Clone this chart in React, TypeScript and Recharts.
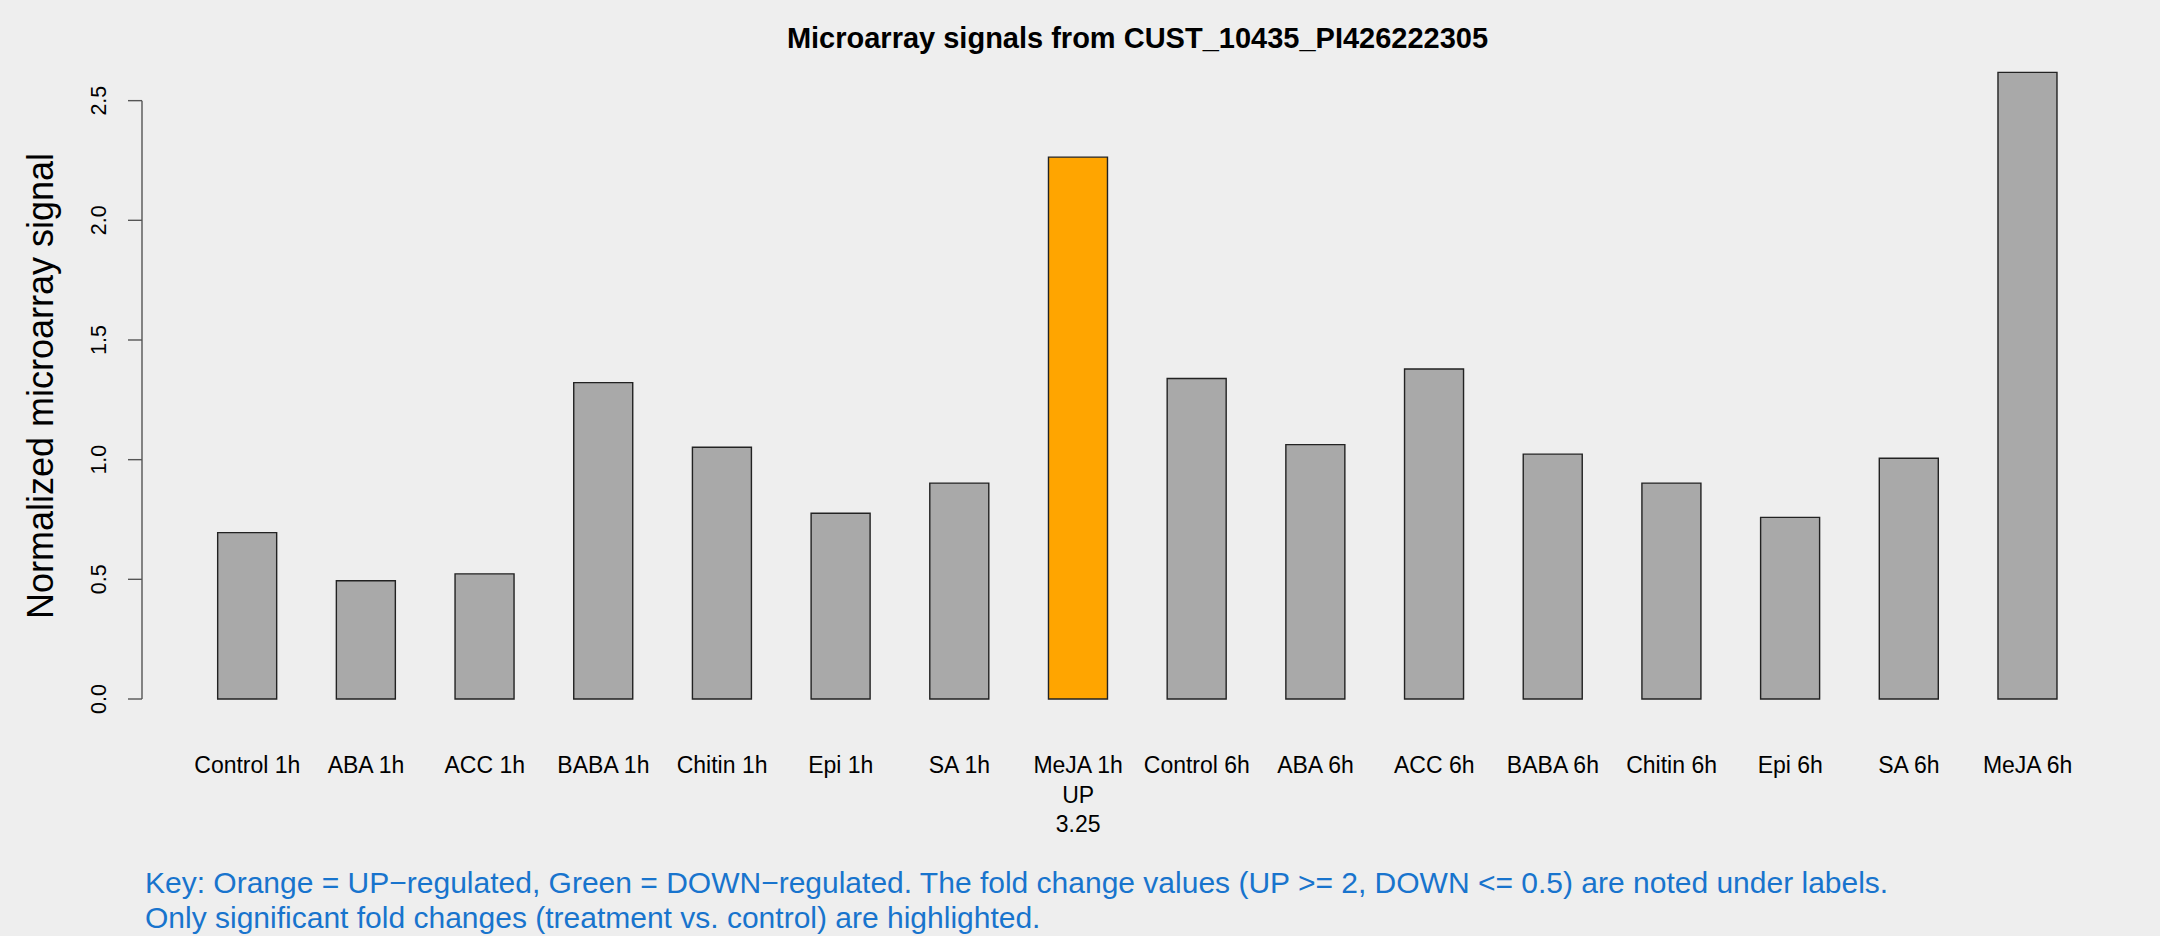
import React from 'react';
import { BarChart, Bar, XAxis, YAxis, Cell } from 'recharts';
import * as R from 'recharts';

const categories = [
  'Control 1h', 'ABA 1h', 'ACC 1h', 'BABA 1h', 'Chitin 1h', 'Epi 1h', 'SA 1h', 'MeJA 1h',
  'Control 6h', 'ABA 6h', 'ACC 6h', 'BABA 6h', 'Chitin 6h', 'Epi 6h', 'SA 6h', 'MeJA 6h'
];
const signals = [
  0.695, 0.494, 0.523, 1.322, 1.052, 0.776, 0.902, 2.264,
  1.339, 1.063, 1.379, 1.023, 0.902, 0.759, 1.006, 2.618
];
const regulation = ['', '', '', '', '', '', '', 'UP', '', '', '', '', '', '', '', ''];
const foldChanges = ['', '', '', '', '', '', '', '3.25', '', '', '', '', '', '', '', ''];
const yTicks = [0, 0.5, 1, 1.5, 2, 2.5];
const yMax = 2.72;

const title = 'Microarray signals from CUST_10435_PI426222305';
const yLabel = 'Normalized microarray signal';
const keyLines = [
  'Key: Orange = UP\u2212regulated, Green = DOWN\u2212regulated. The fold change values (UP >= 2, DOWN <= 0.5) are noted under labels.',
  'Only significant fold changes (treatment vs. control) are highlighted.'
];

const data = categories.map((name, i) => ({
  name,
  signal: signals[i],
  reg: regulation[i],
  fold: foldChanges[i]
}));

const FONT = '"Liberation Sans", Arial, Helvetica, sans-serif';
const AXIS_OFFSET = 46;

const colorFor = (reg: string) => (reg === 'UP' ? '#FFA500' : reg === 'DOWN' ? '#00A000' : '#A9A9A9');

const XTick = (props: any) => {
  const { x, y, index } = props;
  const d = data[index];
  const lines = [d.name, d.reg, d.fold].filter((s) => s);
  return (
    <text x={x} y={y + 74} textAnchor="middle" fontSize={23} fontFamily={FONT} fill="#000">
      {lines.map((l, i) => (
        <tspan key={i} x={x} dy={i === 0 ? 0 : 29.5}>
          {l}
        </tspan>
      ))}
    </text>
  );
};

const YTick = (props: any) => {
  const { x, y, payload } = props;
  const ax = x - AXIS_OFFSET;
  const lx = ax - 43;
  return (
    <g>
      <line x1={ax - 14} x2={ax} y1={y} y2={y} stroke="#555" strokeWidth={1.4} />
      <text
        x={lx}
        y={y}
        transform={`rotate(-90 ${lx} ${y})`}
        textAnchor="middle"
        dominantBaseline="central"
        fontSize={21.5}
        fontFamily={FONT}
        fill="#000"
      >
        {payload.value.toFixed(1)}
      </text>
    </g>
  );
};

const AxisSpine = () => {
  const hook = (R as any).usePlotArea;
  const area = hook ? hook() : null;
  if (!area) return null;
  const bottom = area.y + area.height;
  const top = area.y + area.height * (1 - yTicks[yTicks.length - 1] / yMax);
  const ax = area.x - AXIS_OFFSET;
  return <line x1={ax} x2={ax} y1={bottom} y2={top} stroke="#555" strokeWidth={1.4} />;
};

export default function App() {
  return (
    <div
      style={{
        position: 'fixed',
        left: 0,
        top: 0,
        width: 2160,
        height: 936,
        background: '#EEEEEE',
        fontFamily: FONT
      }}
    >
      <BarChart
        width={2160}
        height={936}
        data={data}
        margin={{ top: 48, right: 73, left: 0, bottom: 0 }}
        barCategoryGap="25%"
      >
        <XAxis
          dataKey="name"
          height={237}
          axisLine={false}
          tickLine={false}
          tickSize={0}
          tickMargin={0}
          interval={0}
          tick={<XTick />}
        />
        <YAxis
          width={188}
          domain={[0, yMax]}
          ticks={yTicks}
          axisLine={false}
          tickLine={false}
          tickSize={0}
          tickMargin={0}
          tick={<YTick />}
        />
        <Bar dataKey="signal" isAnimationActive={false} stroke="#222" strokeWidth={1.4}>
          {data.map((d, i) => (
            <Cell key={i} fill={colorFor(d.reg)} />
          ))}
        </Bar>
        <AxisSpine />
      </BarChart>
      <div
        style={{
          position: 'absolute',
          left: 188,
          width: 1899,
          top: 20,
          textAlign: 'center',
          fontWeight: 'bold',
          fontSize: 29,
          lineHeight: '36px',
          color: '#000'
        }}
      >
        {title}
      </div>
      <div
        style={{
          position: 'absolute',
          left: 41,
          top: 386,
          transform: 'translate(-50%, -50%) rotate(-90deg)',
          whiteSpace: 'nowrap',
          fontSize: 36,
          lineHeight: '40px',
          color: '#000'
        }}
      >
        {yLabel}
      </div>
      <div
        style={{
          position: 'absolute',
          left: 145,
          top: 866,
          fontSize: 30,
          lineHeight: '34.5px',
          color: '#1874CD',
          whiteSpace: 'nowrap'
        }}
      >
        {keyLines.map((l, i) => (
          <div key={i}>{l}</div>
        ))}
      </div>
    </div>
  );
}
